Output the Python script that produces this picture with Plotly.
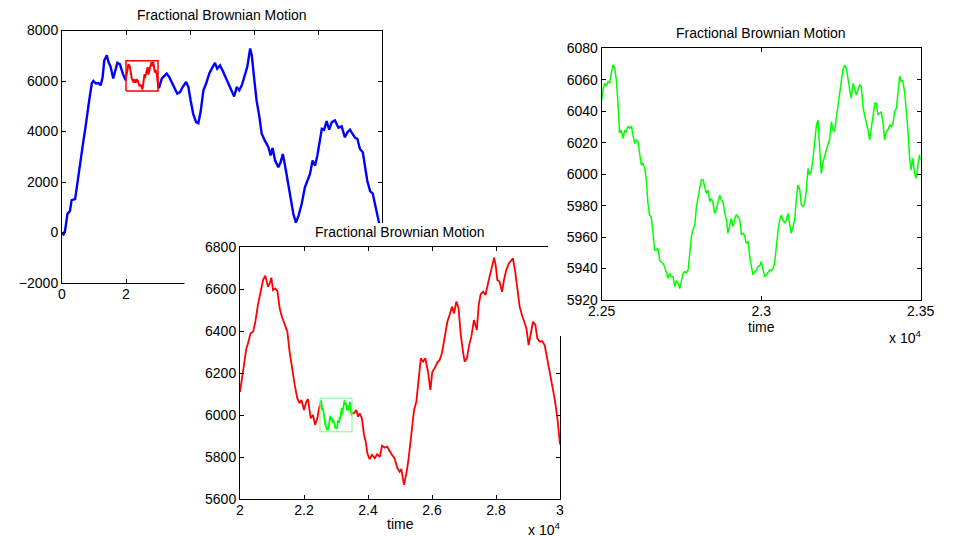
import plotly.graph_objects as go

# ---------------- data ----------------
# Full record (time in samples), outside the first zoom window
blue_t_left = [0, 450, 940, 1700, 2500, 3000, 4100, 4600, 5400, 6100, 6700, 7200, 7700,
               8500, 9300, 9800, 10600, 11400, 12100, 12700, 13200, 14000, 14500, 15200,
               16000, 16600, 17300, 18100, 19000, 19900]
blue_v_left = [-40, -80, 60, 730, 860, 1280, 1320, 1790, 2580, 3110, 3640, 4040, 4570,
               5230, 5900, 6000, 5900, 5920, 5830, 6160, 6810, 7020, 6760, 6560,
               6100, 6360, 6720, 6660, 6290, 6030]
blue_t_right = [30300, 31200, 31900, 32700, 33500, 34300, 35300, 36000, 36900, 37700, 38800,
                39500, 40200, 41000, 41900, 42600, 43300, 44200, 45200, 46000, 46800, 47800,
                48500, 49400, 50400, 51500, 52500, 53800, 54600, 55400, 56200, 57200, 57900,
                58800, 59300, 60000, 60800, 61700, 62400, 63400, 64500, 65200, 65800, 66600,
                67600, 68300, 69000, 69700, 70700, 71500, 72300, 73100, 73900, 74900, 75900,
                76700, 77500, 78300, 79100, 79800, 80600, 81200, 81900, 82700, 83500, 84300,
                85300, 86400, 87400, 88400, 89200, 90000, 90800, 91600, 92300, 93100, 94000,
                94700, 95400, 96300, 97100, 97800, 98500, 99200, 100000]
blue_v_right = [5720, 6100, 6190, 6290, 6160, 5960, 5700, 5500, 5560, 5760, 5960,
                5760, 5230, 4700, 4370, 4330, 4770, 5630, 5960, 6290, 6490, 6720,
                6490, 6620, 6360, 6030, 5760, 5390, 5760, 5630, 5830, 6290, 6560,
                7290, 7020, 6160, 5230, 4570, 3910, 3640, 3380, 3050, 3350, 2850,
                2580, 2780, 3110, 2650, 1920, 1390, 730, 390, 660, 1130, 1790,
                2050, 2320, 2850, 2650, 3050, 3640, 4110, 4070, 4410, 4070, 4370,
                4440, 4150, 4200, 3770, 3970, 4070, 3910, 3750, 3710, 3310, 3180,
                2580, 2050, 1630, 1550, 1130, 730, 330, -150]

# First zoom window (2e4 .. 3e4), outside the second zoom window
red_t_left = [20000, 20060, 20125, 20200, 20250, 20330, 20410, 20480, 20560, 20650, 20720,
              20790, 20875, 20930, 20980, 21030, 21100, 21170, 21240, 21310, 21400, 21480,
              21550, 21625, 21710, 21790, 21860, 21920, 22000, 22070, 22125, 22210, 22280,
              22350, 22420, 22470]
red_v_left = [6110, 6175, 6222, 6318, 6341, 6389, 6397, 6444, 6524, 6587, 6643,
              6663, 6611, 6627, 6654, 6595, 6603, 6590, 6508, 6468, 6429, 6397,
              6301, 6222, 6143, 6080, 6056, 6071, 6024, 6063, 6076, 5984, 6000,
              5952, 5987, 6032]
red_t_right = [23560, 23635, 23690, 23740, 23810, 23875, 23930, 23980, 24050, 24125, 24210,
               24290, 24370, 24440, 24520, 24600, 24680, 24750, 24830, 24920, 24990, 25040,
               25125, 25200, 25270, 25350, 25440, 25510, 25580, 25650, 25720, 25790, 25875,
               25950, 26010, 26080, 26170, 26240, 26310, 26400, 26480, 26550, 26625, 26690,
               26760, 26830, 26900, 26970, 27020, 27090, 27160, 27230, 27310, 27400, 27460,
               27520, 27600, 27670, 27730, 27800, 27875, 27940, 27990, 28040, 28110, 28190,
               28250, 28320, 28400, 28460, 28530, 28600, 28670, 28740, 28810, 28875, 28950,
               29020, 29080, 29156, 29230, 29290, 29370, 29440, 29520, 29600, 29680, 29750,
               29830, 29920, 29980, 30000]
red_v_right = [6008, 6024, 5992, 6008, 5984, 5905, 5873, 5818, 5790, 5810, 5794,
               5813, 5801, 5854, 5844, 5849, 5825, 5810, 5794, 5746, 5730, 5743,
               5667, 5722, 5794, 5905, 6024, 6063, 6175, 6270, 6254, 6270, 6206,
               6119, 6206, 6222, 6251, 6262, 6294, 6365, 6444, 6476, 6516, 6484,
               6540, 6508, 6381, 6301, 6254, 6270, 6333, 6373, 6452, 6405, 6524,
               6575, 6587, 6571, 6619, 6659, 6706, 6749, 6714, 6643, 6635, 6587,
               6643, 6690, 6722, 6733, 6746, 6682, 6603, 6516, 6476, 6444, 6413,
               6333, 6381, 6444, 6429, 6365, 6349, 6352, 6333, 6270, 6214, 6159,
               6080, 5984, 5873, 5860]

# Second zoom window (2.25e4 .. 2.35e4)
green_t = [22500, 22504, 22509, 22514, 22520, 22525, 22530, 22535, 22541, 22546, 22551,
           22556, 22561, 22567, 22572, 22577, 22582, 22588, 22593, 22598, 22603, 22608,
           22614, 22619, 22624, 22629, 22635, 22640, 22645, 22650, 22655, 22661, 22666,
           22671, 22676, 22682, 22687, 22692, 22697, 22703, 22708, 22713, 22718, 22724,
           22729, 22734, 22739, 22745, 22750, 22755, 22760, 22765, 22771, 22776, 22781,
           22786, 22792, 22797, 22802, 22807, 22812, 22818, 22823, 22828, 22833, 22839,
           22844, 22849, 22854, 22859, 22865, 22870, 22875, 22880, 22886, 22891, 22896,
           22901, 22906, 22912, 22917, 22922, 22927, 22933, 22938, 22943, 22948, 22953,
           22959, 22964, 22969, 22974, 22980, 22985, 22990, 22995, 23000, 23006, 23011,
           23016, 23021, 23027, 23032, 23037, 23042, 23047, 23053, 23058, 23063, 23068,
           23074, 23079, 23084, 23089, 23094, 23100, 23105, 23110, 23115, 23121, 23126,
           23131, 23136, 23141, 23147, 23152, 23157, 23162, 23168, 23173, 23178, 23183,
           23188, 23194, 23199, 23204, 23209, 23215, 23220, 23225, 23230, 23235, 23241,
           23246, 23251, 23256, 23262, 23267, 23272, 23277, 23282, 23288, 23293, 23298,
           23303, 23309, 23314, 23319, 23324, 23329, 23335, 23340, 23345, 23350, 23356,
           23361, 23366, 23371, 23376, 23382, 23387, 23392, 23397, 23403, 23408, 23413,
           23418, 23424, 23429, 23434, 23439, 23444, 23450, 23455, 23460, 23465, 23470,
           23475, 23481, 23486, 23491, 23496, 23500]
green_v = [6047.0, 6053.5, 6057.7, 6056.0, 6058.8, 6058.1, 6064.1, 6069.4, 6067.3, 6059.8, 6045.0,
           6026.0, 6028.0, 6022.8, 6028.0, 6027.0, 6030.2, 6029.1, 6030.6, 6023.8, 6019.6, 6021.7,
           6020.6, 6013.3, 6005.8, 6006.9, 6003.7, 5996.3, 5981.5, 5974.0, 5973.0, 5962.4, 5951.8,
           5951.8, 5952.9, 5945.0, 5944.4, 5943.3, 5941.2, 5937.4, 5933.8, 5937.0, 5934.8, 5934.8,
           5928.5, 5932.3, 5930.6, 5927.4, 5932.7, 5937.0, 5938.0, 5937.4, 5939.1, 5949.7, 5960.2,
           5964.5, 5967.7, 5979.3, 5985.7, 5991.0, 5996.3, 5996.3, 5992.0, 5987.8, 5989.9, 5982.5,
           5984.6, 5981.5, 5975.1, 5977.2, 5982.5, 5986.7, 5983.6, 5982.5, 5975.1, 5970.9, 5962.4,
           5966.6, 5971.9, 5966.6, 5971.9, 5974.0, 5973.0, 5970.9, 5961.3, 5962.4, 5961.3, 5956.0,
           5957.1, 5947.5, 5941.2, 5935.9, 5938.0, 5939.1, 5941.2, 5941.6, 5944.4, 5939.1, 5934.8,
           5935.9, 5937.4, 5939.1, 5938.6, 5940.1, 5943.3, 5953.9, 5964.5, 5970.9, 5974.0, 5970.9,
           5968.8, 5970.9, 5975.1, 5968.8, 5962.4, 5966.6, 5970.9, 5983.6, 5993.1, 5989.9, 5980.4,
           5979.3, 5981.5, 5988.8, 6003.7, 5999.5, 6001.6, 6009.0, 6021.7, 6031.2, 6034.4, 6017.4,
           6000.5, 6007.9, 6011.1, 6015.3, 6017.4, 6022.8, 6033.3, 6028.0, 6027.0, 6036.5, 6044.0,
           6051.4, 6059.8, 6066.2, 6069.4, 6067.3, 6060.9, 6055.6, 6048.2, 6057.7, 6054.6, 6050.3,
           6053.5, 6056.7, 6055.6, 6042.9, 6037.6, 6033.3, 6028.0, 6021.7, 6030.2, 6038.7, 6045.0,
           6045.0, 6037.6, 6038.7, 6039.7, 6032.3, 6021.7, 6027.0, 6028.0, 6031.2, 6030.2, 6031.9,
           6039.7, 6041.9, 6051.4, 6062.4, 6058.8, 6059.4, 6051.4, 6040.8, 6028.0, 6011.1, 6002.6,
           6010.1, 6000.5, 5997.4, 6003.7, 6012.2, 6009.0]

# Axis ranges and zoom windows
full_xrange = [0, 100000]
full_yrange = [-2000, 8000]
zoom1_x = [20000, 30000]
zoom1_y = [5600, 6800]
zoom2_x = [22500, 23500]
zoom2_y = [5920, 6080]

full_xticks = [0, 20000, 40000, 60000, 80000, 100000]
zoom1_xticks = [20000, 22000, 24000, 26000, 28000, 30000]
zoom2_xticks = [22500, 23000, 23500]

TITLE = "Fractional Brownian Motion"

# ---------------- layout geometry (pixels) ----------------
W, H = 953, 536
BOX_FULL = (62, 30.5, 382, 283)        # left, top, right, bottom
BOX_Z1 = (240, 247, 560, 499)
BOX_Z2 = (601.7, 48.3, 920.7, 300)

# white window behind each zoom panel: (left, top, size) of the backing square
BACK_Z1 = (184.5, 223, 420)
BACK_Z2 = (548, 336 - 340, 340)

FONT = dict(family="Liberation Sans, Arial, Helvetica, sans-serif", size=14, color="black")


def xdom(box):
    return [box[0] / W, box[2] / W]


def ydom(box):
    return [(H - box[3]) / H, (H - box[1]) / H]


def px_to_data(box, xr, yr, px, py):
    x = xr[0] + (px - box[0]) / (box[2] - box[0]) * (xr[1] - xr[0])
    y = yr[1] - (py - box[1]) / (box[3] - box[1]) * (yr[1] - yr[0])
    return x, y


def rect(xr, yr):
    return [xr[0], xr[1], xr[1], xr[0], xr[0]], [yr[0], yr[0], yr[1], yr[1], yr[0]]


def backing(box, xr, yr, spec, xa, ya):
    left, top, size = spec
    cx, cy = px_to_data(box, xr, yr, left + size / 2, top + size / 2)
    return go.Scatter(x=[cx], y=[cy], mode="markers", xaxis=xa, yaxis=ya,
                      marker=dict(symbol="square", size=size, color="white",
                                  line=dict(width=0)),
                      cliponaxis=False, hoverinfo="skip", showlegend=False)


# zoom-1 path = its own samples with the zoom-2 samples in the middle
z1_t = red_t_left + green_t + red_t_right
z1_v = red_v_left + green_v + red_v_right

fig = go.Figure()

# ---- full record ----
fig.add_trace(go.Scatter(x=blue_t_left + [z1_t[0]], y=blue_v_left + [z1_v[0]],
                         mode="lines", line=dict(color="#0000FF", width=2.4),
                         xaxis="x", yaxis="y", showlegend=False))
fig.add_trace(go.Scatter(x=[z1_t[-1]] + blue_t_right, y=[z1_v[-1]] + blue_v_right,
                         mode="lines", line=dict(color="#0000FF", width=2.4),
                         xaxis="x", yaxis="y", showlegend=False))
fig.add_trace(go.Scatter(x=z1_t, y=z1_v, mode="lines",
                         line=dict(color="#FF0000", width=2),
                         xaxis="x", yaxis="y", showlegend=False))
rx, ry = rect(zoom1_x, zoom1_y)
fig.add_trace(go.Scatter(x=rx, y=ry, mode="lines", line=dict(color="#FF0000", width=1.5),
                         xaxis="x", yaxis="y", showlegend=False))

# ---- first zoom ----
fig.add_trace(backing(BOX_Z1, zoom1_x, zoom1_y, BACK_Z1, "x2", "y2"))
fig.add_trace(go.Scatter(x=red_t_left + [green_t[0]], y=red_v_left + [green_v[0]],
                         mode="lines", line=dict(color="#FF0000", width=1.8),
                         xaxis="x2", yaxis="y2", showlegend=False))
fig.add_trace(go.Scatter(x=[green_t[-1]] + red_t_right, y=[green_v[-1]] + red_v_right,
                         mode="lines", line=dict(color="#FF0000", width=1.8),
                         xaxis="x2", yaxis="y2", showlegend=False))
fig.add_trace(go.Scatter(x=green_t, y=green_v, mode="lines",
                         line=dict(color="#00FF00", width=1.8),
                         xaxis="x2", yaxis="y2", showlegend=False))
gx, gy = rect(zoom2_x, zoom2_y)
fig.add_trace(go.Scatter(x=gx, y=gy, mode="lines", line=dict(color="#8CF08C", width=1),
                         xaxis="x2", yaxis="y2", showlegend=False))

# ---- second zoom ----
fig.add_trace(backing(BOX_Z2, zoom2_x, zoom2_y, BACK_Z2, "x3", "y3"))
fig.add_trace(go.Scatter(x=green_t, y=green_v, mode="lines",
                         line=dict(color="#00FF00", width=1.5),
                         xaxis="x3", yaxis="y3", showlegend=False))

axis_style = dict(showline=True, linecolor="black", linewidth=1, mirror="ticks",
                  ticks="inside", ticklen=4, tickcolor="black", tickwidth=1,
                  showgrid=False, zeroline=False, automargin=False, tickfont=FONT)
x_labels = dict(ticklabelstandoff=-2)


def tick_text(vals):
    return [f"{v / 1e4:g}" for v in vals]


fig.update_layout(
    template="none",
    width=W, height=H, margin=dict(l=0, r=0, t=0, b=0, pad=0, autoexpand=False),
    paper_bgcolor="white", plot_bgcolor="white", showlegend=False, hovermode=False,
    xaxis=dict(domain=xdom(BOX_FULL), range=full_xrange, anchor="y",
               tickvals=full_xticks, ticktext=tick_text(full_xticks),
               **x_labels, **axis_style),
    yaxis=dict(domain=ydom(BOX_FULL), range=full_yrange, anchor="x",
               dtick=2000, tick0=0, **axis_style),
    xaxis2=dict(domain=xdom(BOX_Z1), range=zoom1_x, anchor="y2",
                tickvals=zoom1_xticks, ticktext=tick_text(zoom1_xticks),
                **x_labels, **axis_style),
    yaxis2=dict(domain=ydom(BOX_Z1), range=zoom1_y, anchor="x2",
                dtick=200, tick0=0, **axis_style),
    xaxis3=dict(domain=xdom(BOX_Z2), range=zoom2_x, anchor="y3",
                tickvals=zoom2_xticks, ticktext=tick_text(zoom2_xticks),
                **x_labels, **axis_style),
    yaxis3=dict(domain=ydom(BOX_Z2), range=zoom2_y, anchor="x3",
                dtick=20, tick0=0, **axis_style),
)


def paper_text(text, px, py, xanchor="center", yanchor="middle"):
    fig.add_annotation(text=text, x=px / W, y=(H - py) / H, xref="paper", yref="paper",
                       xanchor=xanchor, yanchor=yanchor, showarrow=False, font=FONT)


for box, ty in ((BOX_FULL, 15), (BOX_Z1, 232), (BOX_Z2, 33)):
    paper_text(TITLE, (box[0] + box[2]) / 2, ty)

paper_text("time", (BOX_Z1[0] + BOX_Z1[2]) / 2, 524)
paper_text("time", (BOX_Z2[0] + BOX_Z2[2]) / 2, 327)
paper_text("x 10<sup>4</sup>", BOX_Z1[2] + 2, 518, xanchor="right", yanchor="top")
paper_text("x 10<sup>4</sup>", BOX_Z2[2] + 2, 326, xanchor="right", yanchor="top")

fig.write_html("out.html")
